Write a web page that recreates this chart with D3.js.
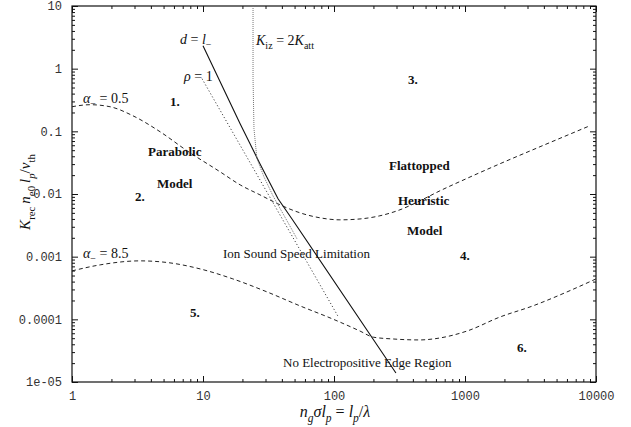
<!DOCTYPE html>
<html>
<head>
<meta charset="utf-8">
<script src="https://cdn.jsdelivr.net/npm/d3@7"></script>
<style>
body{margin:0;background:#fff;}
</style>
</head>
<body>
<script>
// data
var alpha05X = [1, 1.37, 1.95, 2.92, 4.7, 7.55, 13.5, 19.2, 27.2, 38.7, 55, 78.2, 111, 158, 224, 319, 453, 644, 1020, 1850, 3740, 9000];
var alpha05Y = [0.247, 0.266, 0.247, 0.177, 0.0986, 0.049, 0.0226, 0.014, 0.0097, 0.00672, 0.00501, 0.00417, 0.00387, 0.0040, 0.00449, 0.0056, 0.00779, 0.01125, 0.0175, 0.0304, 0.0568, 0.123];

var alpha85X = [1, 1.64, 3.3, 5.6, 9.5, 16.9, 30.8, 55, 98, 158, 199, 282, 453, 570, 1035, 1850, 3300, 6010, 10000];
var alpha85Y = [5.93e-4, 7.4e-4, 8.57e-4, 7.96e-4, 6.38e-4, 4.42e-4, 2.74e-4, 1.64e-4, 1.01e-4, 6.5e-5, 5.2e-5, 4.86e-5, 4.69e-5, 4.86e-5, 6.5e-5, 1.09e-4, 1.64e-4, 2.74e-4, 4.42e-4];

var dLineX = [10, 19.2, 27.2, 37.4, 47.8, 297];
var dLineY = [2.33, 0.132, 0.0304, 0.0084, 0.0040, 1.39e-5];

var rhoX = [9.83, 107];
var rhoY = [0.692, 1.13e-4];

var kizX = [24.1, 24.1, 24.5, 25.8, 29.2, 34.2, 43.8, 52.2];
var kizY = [10, 0.692, 0.110, 0.0365, 0.0188, 0.00936, 0.00373, 0.00192];

var xTickValues = [1, 10, 100, 1000, 10000];
var xTickLabels = ["1", "10", "100", "1000", "10000"];
var yTickValues = [1e-5, 1e-4, 1e-3, 0.01, 0.1, 1, 10];
var yTickLabels = ["1e-05", "0.0001", "0.001", "0.01", "0.1", "1", "10"];

// canvas
var width = 631, height = 427;
var plot = {left:72, right:596, top:6, bottom:382};

var svg = d3.select("body").append("svg")
    .attr("width", width)
    .attr("height", height);

var x = d3.scaleLog().domain([1, 10000]).range([plot.left, plot.right]);
var y = d3.scaleLog().domain([1e-5, 10]).range([plot.bottom, plot.top]);

// minor ticks 2..9 in each decade
function minors(lo, hi){
    var out = [];
    for (var e = lo; e < hi; e++)
        for (var m = 2; m <= 9; m++) out.push(m * Math.pow(10, e));
    return out;
}
var xMinor = minors(0, 4);
var yMinor = minors(-5, 1);

function addAxis(axis, tx, ty, cls){
    var g = svg.append("g")
        .attr("class", cls)
        .attr("transform", "translate(" + tx + "," + ty + ")")
        .call(axis);
    g.select(".domain").remove();
    g.selectAll("line").attr("stroke", "#111").attr("stroke-width", 1);
    return g;
}

// bottom + top
addAxis(d3.axisBottom(x).tickValues(xTickValues).tickSize(-6).tickSizeOuter(0).tickPadding(9)
    .tickFormat(function(d, i){ return xTickLabels[i]; }), 0, plot.bottom, "xaxis");
addAxis(d3.axisBottom(x).tickValues(xMinor).tickSize(-3).tickFormat(""), 0, plot.bottom, "xminor");
addAxis(d3.axisTop(x).tickValues(xTickValues).tickSize(-6).tickFormat(""), 0, plot.top, "xtop");
addAxis(d3.axisTop(x).tickValues(xMinor).tickSize(-3).tickFormat(""), 0, plot.top, "xtopminor");

// left + right
addAxis(d3.axisLeft(y).tickValues(yTickValues).tickSize(-6).tickSizeOuter(0).tickPadding(10)
    .tickFormat(function(d, i){ return yTickLabels[i]; }), plot.left, 0, "yaxis");
addAxis(d3.axisLeft(y).tickValues(yMinor).tickSize(-3).tickFormat(""), plot.left, 0, "yminor");
addAxis(d3.axisRight(y).tickValues(yTickValues).tickSize(-6).tickFormat(""), plot.right, 0, "yright");
addAxis(d3.axisRight(y).tickValues(yMinor).tickSize(-3).tickFormat(""), plot.right, 0, "yrightminor");

svg.selectAll(".xaxis text, .yaxis text")
    .attr("font-family", "Liberation Mono, DejaVu Sans Mono, monospace")
    .attr("font-size", "12px")
    .attr("fill", "#333");

// frame
svg.append("rect")
    .attr("x", plot.left).attr("y", plot.top)
    .attr("width", plot.right - plot.left)
    .attr("height", plot.bottom - plot.top)
    .attr("fill", "none")
    .attr("stroke", "#111")
    .attr("stroke-width", 1.2);

// curves
function drawLine(xs, ys, curve, dash, color, w){
    var pts = xs.map(function(v, i){ return [v, ys[i]]; });
    var line = d3.line()
        .x(function(d){ return x(d[0]); })
        .y(function(d){ return y(d[1]); })
        .curve(curve);
    svg.append("path")
        .datum(pts)
        .attr("d", line)
        .attr("fill", "none")
        .attr("stroke", color)
        .attr("stroke-width", w)
        .attr("stroke-dasharray", dash);
}

drawLine(alpha05X, alpha05Y, d3.curveMonotoneX, "4,3", "#222", 1);
drawLine(alpha85X, alpha85Y, d3.curveMonotoneX, "4,3", "#222", 1);
drawLine(dLineX, dLineY, d3.curveLinear, null, "#111", 1.1);
drawLine(rhoX, rhoY, d3.curveLinear, "1.2,2.2", "#444", 1);
drawLine(kizX, kizY, d3.curveLinear, "1,1", "#777", 1);

// text labels
var serif = "Liberation Serif, DejaVu Serif, serif";

function mathText(px, py, parts, size, anchor, rotate){
    var t = svg.append("text")
        .attr("font-family", serif)
        .attr("font-size", size + "px")
        .attr("fill", "#111")
        .attr("text-anchor", anchor || "start");
    if (rotate) t.attr("transform", "translate(" + px + "," + py + ") rotate(-90)");
    else t.attr("x", px).attr("y", py);
    var shift = 0;
    parts.forEach(function(p){
        var s = t.append("tspan").text(p.t);
        if (p.i) s.attr("font-style", "italic");
        var target = p.sub ? size * 0.3 : 0;
        if (target !== shift) { s.attr("dy", target - shift); shift = target; }
        if (p.sub) s.attr("font-size", (size * 0.72) + "px");
    });
    return t;
}

mathText(83, 103, [{t:"α", i:true}, {t:"−", sub:true}, {t:" = 0.5"}], 14);
mathText(83, 258, [{t:"α", i:true}, {t:"−", sub:true}, {t:" = 8.5"}], 14);
mathText(180, 44, [{t:"d", i:true}, {t:" = "}, {t:"l", i:true}, {t:"−", sub:true}], 14);
mathText(184, 81, [{t:"ρ", i:true}, {t:" = 1"}], 14);
mathText(256, 45, [{t:"K", i:true}, {t:"iz", sub:true}, {t:" = 2"}, {t:"K", i:true}, {t:"att", sub:true}], 14);

var boldLabels = [
    ["1.", 170, 106], ["2.", 135, 201], ["3.", 408, 84], ["4.", 460, 260], ["5.", 190, 317], ["6.", 517, 352],
    ["Parabolic", 148, 156], ["Model", 157, 188],
    ["Flattopped", 389, 170], ["Heuristic", 398, 205], ["Model", 407, 235]
];
svg.selectAll(".boldLab")
    .data(boldLabels)
    .enter()
    .append("text")
    .attr("x", function(d){ return d[1]; })
    .attr("y", function(d){ return d[2]; })
    .attr("font-family", serif)
    .attr("font-weight", "bold")
    .attr("font-size", "13px")
    .attr("fill", "#111")
    .text(function(d){ return d[0]; });

var plainLabels = [
    ["Ion Sound Speed Limitation", 223, 258],
    ["No Electropositive Edge Region", 283, 367]
];
svg.selectAll(".plainLab")
    .data(plainLabels)
    .enter()
    .append("text")
    .attr("x", function(d){ return d[1]; })
    .attr("y", function(d){ return d[2]; })
    .attr("font-family", serif)
    .attr("font-size", "13px")
    .attr("fill", "#111")
    .text(function(d){ return d[0]; });

// axis titles
mathText(335, 417, [{t:"n", i:true}, {t:"g", i:true, sub:true}, {t:"σ", i:true}, {t:"l", i:true}, {t:"p", i:true, sub:true},
    {t:" = "}, {t:"l", i:true}, {t:"p", i:true, sub:true}, {t:"/"}, {t:"λ", i:true}], 16, "middle");
mathText(30, 192, [{t:"K", i:true}, {t:"rec", sub:true}, {t:"\u2009n", i:true}, {t:"e0", sub:true}, {t:"\u2009l", i:true}, {t:"p", i:true, sub:true},
    {t:"/"}, {t:"v", i:true}, {t:"th", sub:true}], 15, "middle", true);
</script>
</body>
</html>
